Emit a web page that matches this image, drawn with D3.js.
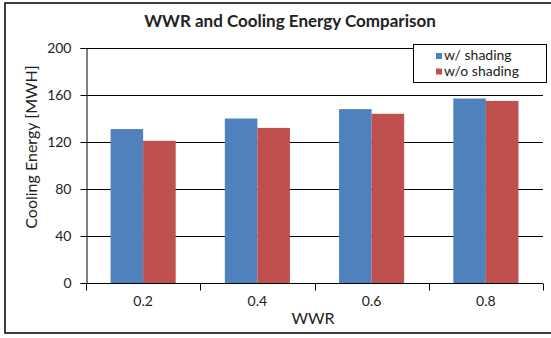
<!DOCTYPE html>
<html>
<head>
<meta charset="utf-8">
<script src="https://cdn.jsdelivr.net/npm/d3@7"></script>
<style>
  html, body { margin: 0; padding: 0; background: #fff; }
  svg { display: block; }
  text { font-family: Lato, "Open Sans", sans-serif; fill: #222; }
</style>
</head>
<body>
<svg id="chart" width="551" height="338"></svg>
<script>
// Cooling energy (MWH) by window-to-wall ratio
const categories = ["0.2", "0.4", "0.6", "0.8"];
const seriesNames = ["w/ shading", "w/o shading"];
const withShading = [131, 140, 148, 157];
const withoutShading = [121, 132, 144, 155];
const yTicks = [0, 40, 80, 120, 160, 200];
const colors = ["#4F81BD", "#C0504D"];

const svg = d3.select("#chart");
const plot = { left: 86, right: 543, top: 48, bottom: 283 };

// Outer chart frame (right edge runs past the visible area)
svg.append("rect")
  .attr("x", 5).attr("y", 3)
  .attr("width", 560).attr("height", 330)
  .attr("fill", "#fff").attr("stroke", "#000").attr("stroke-width", 1.5);

const x = d3.scaleBand().domain(categories).range([plot.left, plot.right]).paddingInner(0).paddingOuter(0);
const y = d3.scaleLinear().domain([0, 200]).range([plot.bottom, plot.top]);

// Horizontal gridlines
svg.append("g").selectAll("line").data(yTicks.filter(d => d > 0)).join("line")
  .attr("x1", plot.left).attr("x2", plot.right)
  .attr("y1", d => Math.round(y(d)) + 0.5).attr("y2", d => Math.round(y(d)) + 0.5)
  .attr("stroke", "#000").attr("stroke-width", 1);

// Bars
const barW = x.bandwidth() * 0.285;
const series = [withShading, withoutShading];
series.forEach((vals, si) => {
  svg.append("g").selectAll("rect").data(vals).join("rect")
    .attr("x", (d, i) => x(categories[i]) + x.bandwidth() / 2 - barW + si * barW)
    .attr("y", d => y(d))
    .attr("width", barW)
    .attr("height", d => y(0) - y(d))
    .attr("fill", colors[si]);
});

// Y axis
const yAxis = svg.append("g").attr("transform", `translate(${plot.left + 0.5},0)`)
  .call(d3.axisLeft(y).tickValues(yTicks).tickSize(6).tickPadding(9));
yAxis.select(".domain").attr("stroke", "#000");
yAxis.selectAll(".tick line").attr("stroke", "#000");
yAxis.selectAll("text").attr("font-size", 14).attr("fill", "#222")
  .style("font-family", "Lato, 'Open Sans', sans-serif");

// X axis with ticks at category boundaries
const xAxisG = svg.append("g").attr("transform", `translate(0,${Math.round(plot.bottom) + 0.5})`);
xAxisG.append("line").attr("x1", plot.left).attr("x2", plot.right).attr("stroke", "#000");
const bounds = categories.map(c => x(c)).concat([plot.right]);
xAxisG.selectAll("line.tk").data(bounds).join("line").attr("class", "tk")
  .attr("x1", d => Math.round(d) + 0.5).attr("x2", d => Math.round(d) + 0.5)
  .attr("y1", 0).attr("y2", 7).attr("stroke", "#000");
xAxisG.selectAll("text").data(categories).join("text")
  .attr("x", d => x(d) + x.bandwidth() / 2).attr("y", 22)
  .attr("text-anchor", "middle").attr("font-size", 14).text(d => d);

// Axis titles
svg.append("text").attr("x", 313).attr("y", 324).attr("text-anchor", "middle")
  .attr("font-size", 16).text("WWR");
svg.append("text").attr("transform", "translate(37,147) rotate(-90)")
  .attr("text-anchor", "middle").attr("font-size", 16).text("Cooling Energy [MWH]");

// Title
svg.append("text").attr("x", 290).attr("y", 27).attr("text-anchor", "middle")
  .attr("font-size", 17).attr("font-weight", "bold").text("WWR and Cooling Energy Comparison");

// Legend
const lg = svg.append("g");
lg.append("rect").attr("x", 413.5).attr("y", 44.5).attr("width", 133).attr("height", 38)
  .attr("fill", "#fff").attr("stroke", "#000");
seriesNames.forEach((name, i) => {
  lg.append("rect").attr("x", 436).attr("y", 53 + i * 15.5).attr("width", 6).attr("height", 6)
    .attr("fill", colors[i]);
  lg.append("text").attr("x", 444).attr("y", 60 + i * 15.5).attr("font-size", 14).text(name);
});
</script>
</body>
</html>
